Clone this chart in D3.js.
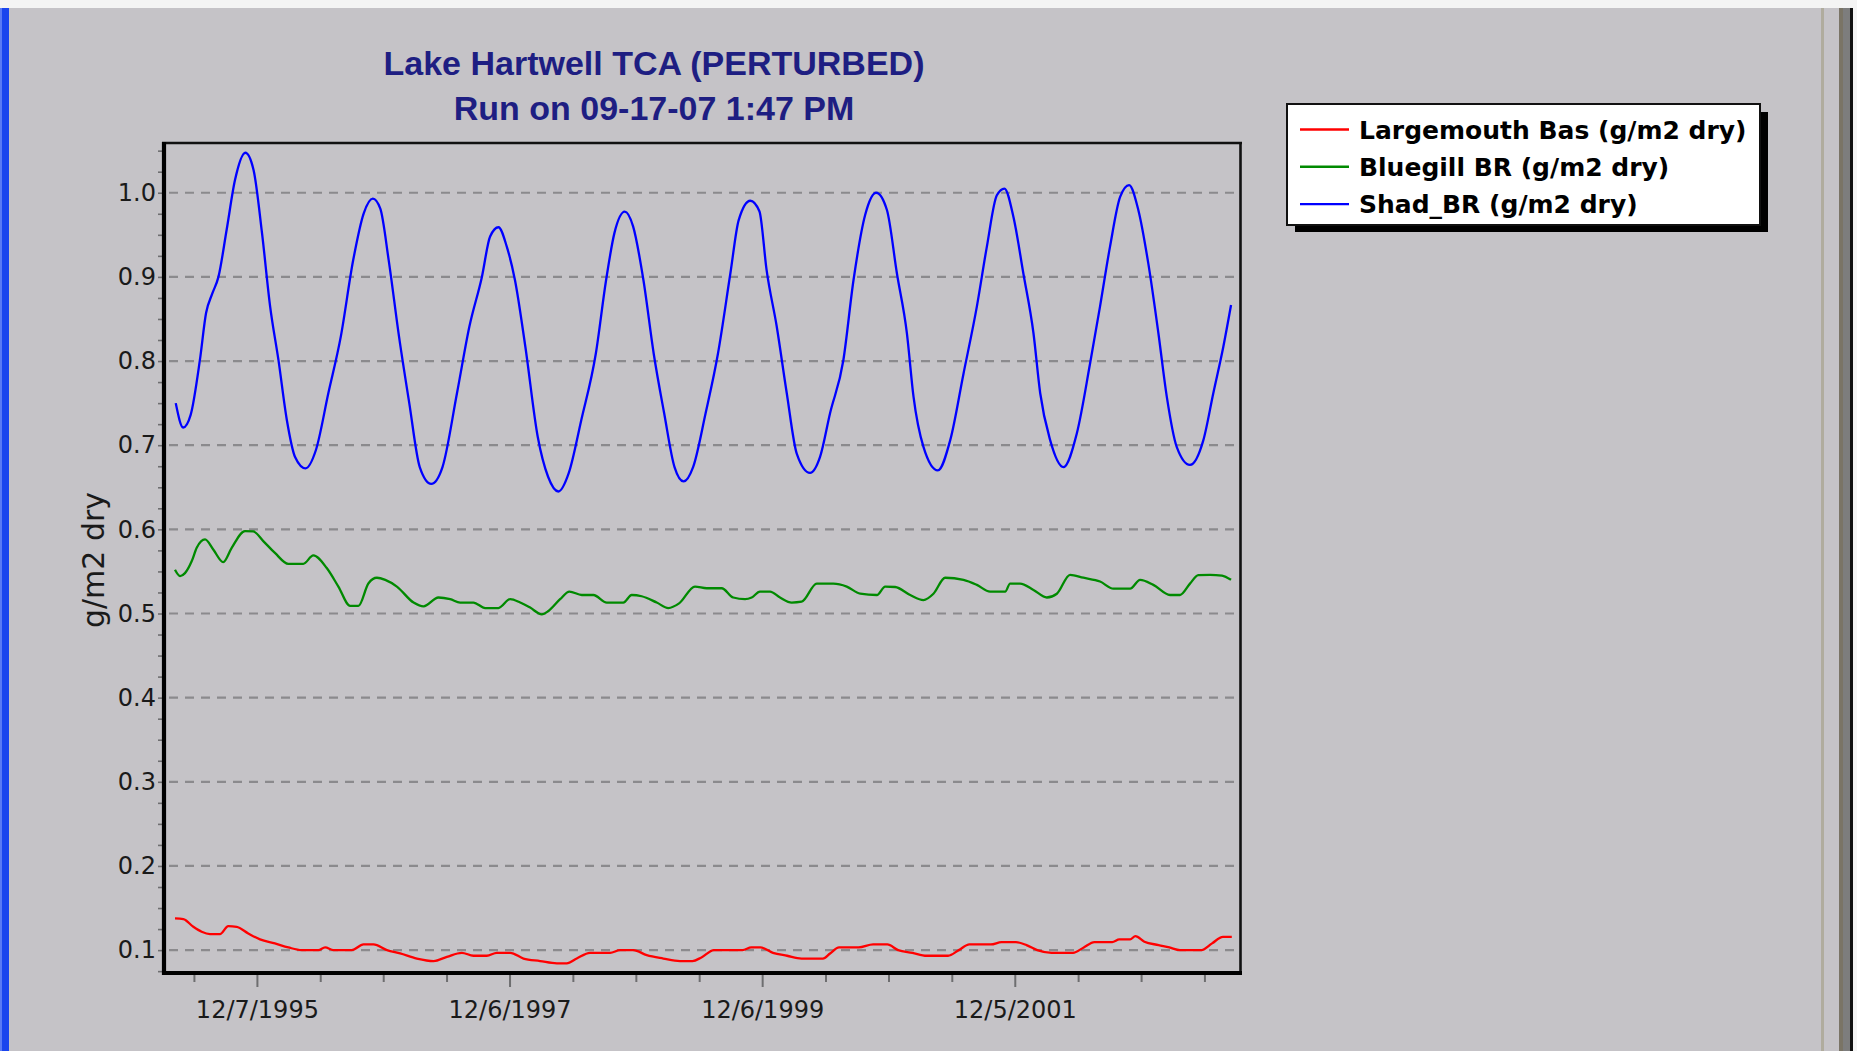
<!DOCTYPE html>
<html><head><meta charset="utf-8">
<script src="https://cdn.jsdelivr.net/npm/d3@7"></script>
<style>html,body{margin:0;padding:0;background:#c5c3c7;overflow:hidden}</style>
</head><body>
<svg id="chart" width="1857" height="1051"></svg>
<script>
// ---------------- DATA ----------------
const titleLines = ["Lake Hartwell TCA (PERTURBED)", "Run on 09-17-07 1:47 PM"];
const yAxisLabel = "g/m2 dry";
const seriesNames = ["Largemouth Bas (g/m2 dry)", "Bluegill BR (g/m2 dry)", "Shad_BR (g/m2 dry)"];

// x values are decimal years
const bassData = [[1995.283,0.1376],[1995.349,0.1368],[1995.428,0.1277],[1995.494,0.1218],[1995.560,0.119],[1995.639,0.119],[1995.705,0.1285],[1995.771,0.1277],[1995.863,0.1198],[1995.956,0.1127],[1996.074,0.1079],[1996.180,0.1032],[1996.286,0.100],[1996.417,0.100],[1996.470,0.1032],[1996.536,0.100],[1996.681,0.100],[1996.773,0.1067],[1996.852,0.1067],[1996.958,0.100],[1997.063,0.096],[1997.195,0.090],[1997.327,0.087],[1997.433,0.092],[1997.551,0.0968],[1997.643,0.0933],[1997.749,0.0933],[1997.828,0.0968],[1997.934,0.0968],[1998.039,0.090],[1998.171,0.087],[1998.303,0.0842],[1998.382,0.0842],[1998.461,0.090],[1998.566,0.0968],[1998.725,0.0968],[1998.804,0.100],[1998.909,0.100],[1999.015,0.094],[1999.146,0.090],[1999.278,0.087],[1999.377,0.087],[1999.448,0.0913],[1999.547,0.100],[1999.773,0.100],[1999.843,0.1032],[1999.915,0.1032],[2000.014,0.0968],[2000.126,0.0933],[2000.239,0.090],[2000.409,0.090],[2000.465,0.096],[2000.536,0.1032],[2000.691,0.1032],[2000.805,0.1067],[2000.917,0.1067],[2001.002,0.100],[2001.115,0.0968],[2001.228,0.0933],[2001.398,0.0933],[2001.483,0.100],[2001.567,0.1067],[2001.737,0.1067],[2001.821,0.1095],[2001.934,0.1095],[2002.019,0.106],[2002.104,0.100],[2002.217,0.0968],[2002.387,0.0968],[2002.472,0.1032],[2002.556,0.1095],[2002.697,0.1095],[2002.754,0.1127],[2002.839,0.1127],[2002.881,0.1166],[2002.952,0.110],[2003.065,0.106],[2003.150,0.1032],[2003.234,0.100],[2003.404,0.100],[2003.488,0.108],[2003.574,0.1158],[2003.644,0.1158]];

const bluegillData = [[1995.283,0.552],[1995.323,0.5445],[1995.362,0.548],[1995.415,0.562],[1995.455,0.578],[1995.521,0.588],[1995.586,0.576],[1995.665,0.561],[1995.732,0.578],[1995.837,0.598],[1995.903,0.5975],[1995.982,0.586],[1996.074,0.572],[1996.180,0.559],[1996.298,0.559],[1996.377,0.569],[1996.483,0.554],[1996.575,0.532],[1996.668,0.509],[1996.733,0.509],[1996.813,0.536],[1996.879,0.5425],[1996.945,0.540],[1997.037,0.532],[1997.169,0.513],[1997.248,0.5085],[1997.366,0.519],[1997.459,0.517],[1997.538,0.513],[1997.643,0.513],[1997.736,0.5065],[1997.841,0.5065],[1997.934,0.517],[1998.013,0.513],[1998.092,0.507],[1998.184,0.499],[1998.237,0.503],[1998.329,0.517],[1998.403,0.526],[1998.501,0.522],[1998.593,0.522],[1998.699,0.513],[1998.830,0.513],[1998.896,0.522],[1998.975,0.5205],[1999.094,0.513],[1999.186,0.5065],[1999.271,0.512],[1999.397,0.532],[1999.490,0.530],[1999.608,0.530],[1999.700,0.519],[1999.793,0.517],[1999.846,0.519],[1999.911,0.526],[1999.991,0.526],[2000.070,0.519],[2000.162,0.513],[2000.241,0.514],[2000.360,0.5355],[2000.491,0.5355],[2000.597,0.532],[2000.703,0.5235],[2000.835,0.522],[2000.900,0.532],[2000.979,0.5315],[2001.098,0.522],[2001.203,0.516],[2001.282,0.5235],[2001.375,0.5425],[2001.520,0.540],[2001.626,0.534],[2001.731,0.526],[2001.850,0.526],[2001.889,0.5355],[2001.968,0.5355],[2002.074,0.528],[2002.180,0.519],[2002.259,0.5235],[2002.364,0.546],[2002.469,0.5425],[2002.601,0.538],[2002.707,0.5295],[2002.839,0.5295],[2002.918,0.540],[2003.023,0.534],[2003.155,0.522],[2003.234,0.522],[2003.313,0.5355],[2003.379,0.5455],[2003.472,0.546],[2003.566,0.545],[2003.638,0.540]];

const shadData = [[1995.289,0.750],[1995.348,0.721],[1995.407,0.736],[1995.480,0.801],[1995.529,0.857],[1995.578,0.880],[1995.627,0.900],[1995.692,0.956],[1995.758,1.015],[1995.840,1.0475],[1995.905,1.027],[1995.972,0.952],[1996.036,0.865],[1996.102,0.801],[1996.168,0.730],[1996.233,0.686],[1996.316,0.6725],[1996.397,0.694],[1996.496,0.762],[1996.594,0.829],[1996.692,0.920],[1996.775,0.9755],[1996.847,0.993],[1996.906,0.981],[1996.972,0.920],[1997.054,0.829],[1997.135,0.750],[1997.218,0.674],[1997.309,0.654],[1997.398,0.674],[1997.513,0.762],[1997.611,0.841],[1997.710,0.900],[1997.775,0.948],[1997.841,0.959],[1997.907,0.936],[1997.972,0.896],[1998.054,0.817],[1998.152,0.710],[1998.234,0.6625],[1998.316,0.645],[1998.398,0.667],[1998.497,0.730],[1998.612,0.809],[1998.693,0.896],[1998.759,0.952],[1998.841,0.9775],[1998.907,0.960],[1998.989,0.896],[1999.070,0.809],[1999.153,0.738],[1999.235,0.674],[1999.307,0.657],[1999.382,0.674],[1999.481,0.738],[1999.579,0.809],[1999.677,0.904],[1999.743,0.9675],[1999.835,0.9905],[1999.907,0.978],[1999.964,0.908],[2000.044,0.841],[2000.123,0.762],[2000.202,0.690],[2000.307,0.667],[2000.386,0.686],[2000.465,0.738],[2000.570,0.801],[2000.650,0.896],[2000.742,0.9735],[2000.829,1.000],[2000.914,0.9795],[2000.993,0.904],[2001.072,0.833],[2001.124,0.758],[2001.203,0.698],[2001.317,0.670],[2001.415,0.706],[2001.520,0.785],[2001.626,0.865],[2001.705,0.936],[2001.784,0.997],[2001.844,1.005],[2001.915,0.9715],[2001.994,0.904],[2002.074,0.833],[2002.127,0.762],[2002.206,0.706],[2002.311,0.674],[2002.417,0.714],[2002.522,0.797],[2002.601,0.865],[2002.680,0.936],[2002.760,0.995],[2002.831,1.009],[2002.904,0.9795],[2002.983,0.916],[2003.063,0.833],[2003.129,0.758],[2003.208,0.698],[2003.313,0.6765],[2003.419,0.706],[2003.498,0.762],[2003.577,0.817],[2003.638,0.8665]];

const xTickDates = ["6/8/1995","12/7/1995","6/7/1996","12/6/1996","6/7/1997","12/6/1997","6/7/1998","12/6/1998","6/7/1999","12/6/1999","6/6/2000","12/5/2000","6/6/2001","12/5/2001","6/6/2002","12/5/2002","6/6/2003"];
const xTickLabels = ["12/7/1995","12/6/1997","12/6/1999","12/5/2001"];
const yTicks = [0.1,0.2,0.3,0.4,0.5,0.6,0.7,0.8,0.9,1.0];
const yMinorTicks = [0.075,0.1,0.125,0.15,0.175,0.2,0.225,0.25,0.275,0.3,0.325,0.35,0.375,0.4,0.425,0.45,0.475,0.5,0.525,0.55,0.575,0.6,0.625,0.65,0.675,0.7,0.725,0.75,0.775,0.8,0.825,0.85,0.875,0.9,0.925,0.95,0.975,1.0,1.025,1.05];
const xDomainYears = [1995.196, 2003.709];
const yDomain = [0.0728, 1.0591];

// ---------------- STYLE / LAYOUT ----------------
const seriesColors = ["#ff0000", "#008a00", "#0000ff"];
const plot = {left: 164, right: 1240, top: 143, bottom: 973};
const FONT = "'DejaVu Sans', Verdana, sans-serif";
const TITLE_FONT = "'Liberation Sans', Arial, sans-serif";

function decYear(v) {
  const yr = Math.floor(v);
  const s = new Date(yr, 0, 1), e = new Date(yr + 1, 0, 1);
  return new Date(+s + (v - yr) * (e - s));
}
const parse = d3.timeParse("%m/%d/%Y");

const svg = d3.select("#chart");

// window chrome
svg.append("rect").attr("x",0).attr("y",0).attr("width",1857).attr("height",1051).attr("fill","#c5c3c7");
svg.append("rect").attr("x",0).attr("y",0).attr("width",1857).attr("height",8).attr("fill","#f4f4f4");
svg.append("rect").attr("x",0).attr("y",8).attr("width",9).attr("height",1043).attr("fill","#1a44ee");
svg.append("rect").attr("x",0).attr("y",8).attr("width",2).attr("height",1043).attr("fill","#5a7af5");
svg.append("rect").attr("x",1821).attr("y",8).attr("width",3).attr("height",1043).attr("fill","#b0ac9e");
svg.append("rect").attr("x",1839).attr("y",8).attr("width",4).attr("height",1043).attr("fill","#7a7466");
svg.append("rect").attr("x",1843).attr("y",8).attr("width",7).attr("height",1043).attr("fill","#7d7d7d");
svg.append("rect").attr("x",1850).attr("y",8).attr("width",3).attr("height",1043).attr("fill","#111");
svg.append("rect").attr("x",1853).attr("y",0).attr("width",4).attr("height",1051).attr("fill","#f4f4f4");

const x = d3.scaleTime().domain(xDomainYears.map(decYear)).range([plot.left, plot.right]);
const y = d3.scaleLinear().domain(yDomain).range([plot.bottom, plot.top]);

// title
svg.append("g").selectAll("text").data(titleLines).join("text")
  .attr("x", 654).attr("y", (d,i) => 75 + i*44.5)
  .attr("text-anchor","middle").attr("font-family",TITLE_FONT).attr("font-weight","bold")
  .attr("font-size", 34).attr("fill","#1e1e82").text(d => d);

// gridlines
svg.append("g").selectAll("line").data(yTicks).join("line")
  .attr("x1", plot.left + 5).attr("x2", plot.right - 2)
  .attr("y1", d => y(d)).attr("y2", d => y(d))
  .attr("stroke","#8b8a8d").attr("stroke-width",2.2).attr("stroke-dasharray","9,7");

// y axis minor ticks
const yMinorAxis = svg.append("g").attr("transform",`translate(${plot.left-2},0)`)
  .call(d3.axisLeft(y).tickValues(yMinorTicks).tickSize(4).tickFormat(""));
yMinorAxis.select(".domain").remove();
yMinorAxis.selectAll("line").attr("stroke","#6e6e70").attr("stroke-width",1.6);

// y axis labels
const yLabAxis = svg.append("g").attr("transform",`translate(${plot.left-2},0)`)
  .call(d3.axisLeft(y).tickValues(yTicks).tickSize(0).tickPadding(6).tickFormat(d3.format(".1f")));
yLabAxis.select(".domain").remove();
yLabAxis.selectAll("text").attr("font-family",FONT).attr("font-size",24).attr("fill","#1a1a1a");

// x axis
const tickDates = xTickDates.map(parse);
const majorSet = new Set(xTickLabels);
const xMinorAxis = svg.append("g").attr("transform",`translate(0,${plot.bottom+2})`)
  .call(d3.axisBottom(x).tickValues(tickDates.filter((d,i)=>!majorSet.has(xTickDates[i]))).tickSize(7).tickFormat(""));
xMinorAxis.select(".domain").remove();
xMinorAxis.selectAll("line").attr("stroke","#6e6e70").attr("stroke-width",2);

const fmt = d3.timeFormat("%-m/%-d/%Y");
const xMajorAxis = svg.append("g").attr("transform",`translate(0,${plot.bottom+2})`)
  .call(d3.axisBottom(x).tickValues(xTickLabels.map(parse)).tickSize(12).tickPadding(14).tickFormat(fmt));
xMajorAxis.select(".domain").remove();
xMajorAxis.selectAll("line").attr("stroke","#6e6e70").attr("stroke-width",2);
xMajorAxis.selectAll("text").attr("font-family",FONT).attr("font-size",24).attr("fill","#1a1a1a");

// y axis title
svg.append("text").attr("transform","translate(104,560) rotate(-90)")
  .attr("text-anchor","middle").attr("font-family",FONT).attr("font-size",30)
  .attr("fill","#1a1a1a").text(yAxisLabel);

// series
const line = d3.line().x(d => x(decYear(d[0]))).y(d => y(d[1])).curve(d3.curveMonotoneX);
const allSeries = [bassData, bluegillData, shadData];
svg.append("g").selectAll("path").data(allSeries).join("path")
  .attr("d", line).attr("fill","none")
  .attr("stroke", (d,i) => seriesColors[i]).attr("stroke-width", 2.3)
  .attr("stroke-linejoin","round");

// frame
svg.append("line").attr("x1",plot.left-2).attr("x2",plot.right+2).attr("y1",plot.top).attr("y2",plot.top)
  .attr("stroke","#111").attr("stroke-width",2.4);
svg.append("line").attr("x1",plot.right+0.5).attr("x2",plot.right+0.5).attr("y1",plot.top-1).attr("y2",plot.bottom+2)
  .attr("stroke","#111").attr("stroke-width",2.6);
svg.append("line").attr("x1",plot.left).attr("x2",plot.left).attr("y1",plot.top-1).attr("y2",plot.bottom+2)
  .attr("stroke","#000").attr("stroke-width",4.2);
svg.append("line").attr("x1",plot.left-2).attr("x2",plot.right+2).attr("y1",plot.bottom).attr("y2",plot.bottom)
  .attr("stroke","#000").attr("stroke-width",4.2);

// legend
const lg = svg.append("g");
lg.append("rect").attr("x",1295).attr("y",112).attr("width",473).attr("height",120).attr("fill","#000");
lg.append("rect").attr("x",1287).attr("y",104).attr("width",473).attr("height",121)
  .attr("fill","#fff").attr("stroke","#111").attr("stroke-width",2);
const rows = lg.selectAll("g.row").data(seriesNames).join("g").attr("class","row")
  .attr("transform",(d,i)=>`translate(0,${129.5 + i*37.3})`);
rows.append("line").attr("x1",1300).attr("x2",1349).attr("y1",0).attr("y2",0)
  .attr("stroke",(d,i)=>seriesColors[i]).attr("stroke-width",2.4);
rows.append("text").attr("x",1359).attr("y",9.3).attr("font-family",FONT).attr("font-weight","bold")
  .attr("font-size",25).attr("fill","#000").text(d=>d);
</script>
</body></html>
